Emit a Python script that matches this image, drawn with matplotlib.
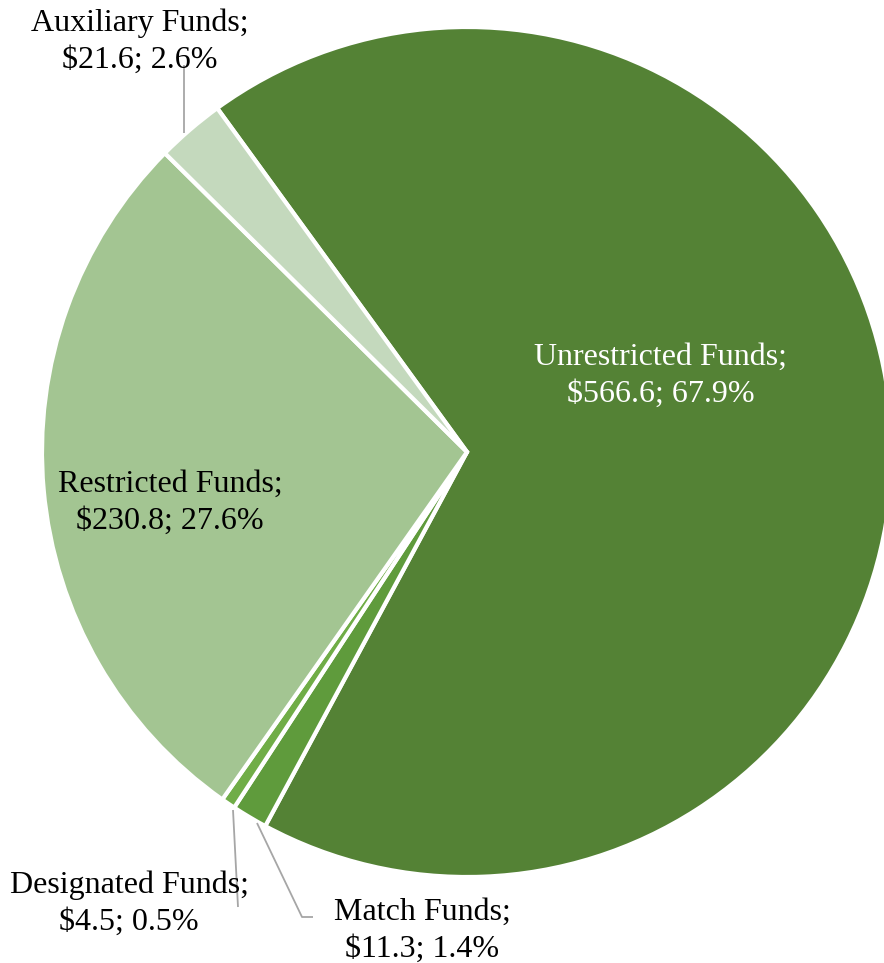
import matplotlib
matplotlib.use("Agg")
import matplotlib.pyplot as plt

# fund budget breakdown ($ millions), drawn clockwise
funds = ["Unrestricted Funds", "Match Funds", "Designated Funds",
         "Restricted Funds", "Auxiliary Funds"]
amounts = [566.6, 11.3, 4.5, 230.8, 21.6]
colors = ["#548235", "#5F9B3C", "#70AD47", "#A3C592", "#C4D9BD"]
text_colors = ["white", "black", "black", "black", "black"]

# label anchor (x, first baseline) in pixel coords, origin top-left
label_pos = [(661, 365), (422, 920), (129, 893), (170, 492), (140, 31)]
line_gap = 37

# leader lines for the small slices: list of (x, y) pixel points
leaders = {
    "Match Funds": [(257, 823), (302, 917), (313, 917)],
    "Designated Funds": [(233, 810), (238, 907)],
    "Auxiliary Funds": [(184, 133), (184, 65)],
}

W, H = 884, 963
plt.rcParams["font.family"] = ["Liberation Serif", "DejaVu Serif"]

fig = plt.figure(figsize=(W / 100, H / 100), dpi=100)
ax = fig.add_axes([0, 0, 1, 1])


def to_data(x, y):
    return x, H - y


cx, cy = to_data(467, 452)
ax.pie(amounts, colors=colors, startangle=126, counterclock=False,
       center=(cx, cy), radius=425,
       wedgeprops=dict(edgecolor="white", linewidth=3))

ax.set_xlim(0, W)
ax.set_ylim(0, H)
ax.set_aspect("equal")
ax.axis("off")

total = sum(amounts)
for name, amt, (lx, ly), tc in zip(funds, amounts, label_pos, text_colors):
    pct = amt / total * 100
    x, y = to_data(lx, ly)
    ax.text(x, y, f"{name};", ha="center", va="baseline",
            fontsize=23, color=tc)
    ax.text(x, y - line_gap, f"${amt:.1f}; {pct:.1f}%", ha="center",
            va="baseline", fontsize=23, color=tc)

for name, pts in leaders.items():
    xs, ys = zip(*[to_data(px, py) for px, py in pts])
    ax.plot(xs, ys, color="#A6A6A6", linewidth=1.3, solid_capstyle="butt")

fig.savefig("out.png", dpi=100)
